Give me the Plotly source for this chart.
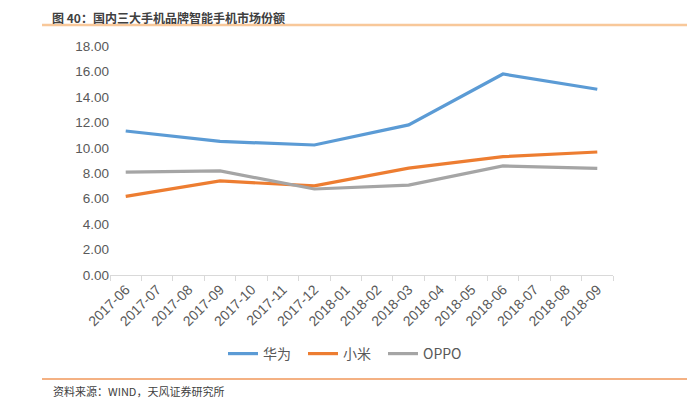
import plotly.graph_objects as go

months = ["2017-06", "2017-07", "2017-08", "2017-09", "2017-10", "2017-11", "2017-12",
          "2018-01", "2018-02", "2018-03", "2018-04", "2018-05", "2018-06", "2018-07",
          "2018-08", "2018-09"]
quarters = ["2017-06", "2017-09", "2017-12", "2018-03", "2018-06", "2018-09"]
huawei = [11.32, 10.50, 10.22, 11.80, 15.80, 14.60]
xiaomi = [6.18, 7.39, 7.00, 8.40, 9.30, 9.67]
oppo = [8.08, 8.18, 6.76, 7.06, 8.57, 8.38]

series_names = ["华为", "小米", "OPPO"]
colors = ["#5B9BD5", "#ED7D31", "#A5A5A5"]

# page offset from default body margin
OFF = 8
PW, PH = 695, 412
W, H = PW - OFF, PH - OFF
# plot area in page pixels
X0, X1, Y0, Y1 = 110, 613, 46, 275
L, R, T, B = X0 - OFF, PW - X1, Y0 - OFF, PH - Y1
pw, ph = X1 - X0, Y1 - Y0

def px(x):
    return (x - X0) / pw

def py(y):
    return (Y1 - y) / ph

fig = go.Figure()
for name, vals, c in zip(series_names, [huawei, xiaomi, oppo], colors):
    fig.add_trace(go.Scatter(x=quarters, y=vals, name=name, mode="lines",
                             line=dict(color=c, width=3.2), connectgaps=True))

cjk = "Noto Sans CJK SC"
fig.update_layout(
    width=W, height=H,
    margin=dict(l=L, r=R, t=T, b=B),
    plot_bgcolor="white", paper_bgcolor="white",
    font=dict(family=cjk, color="#595959", size=12),
    showlegend=True,
    legend=dict(orientation="h", x=px(343), y=py(354), xanchor="center", yanchor="middle",
                font=dict(size=14, color="#595959", family=cjk),
                entrywidth=35, entrywidthmode="pixels",
                traceorder="normal"),
    xaxis=dict(type="category", categoryorder="array", categoryarray=months,
               range=[-0.5, 15.5], tickangle=-45, showgrid=False,
               showline=True, linecolor="#D9D9D9", linewidth=1,
               ticks="outside", tickson="boundaries", ticklen=5, tickcolor="#D9D9D9",
               tickfont=dict(size=14, color="#595959", family="Liberation Sans")),
    yaxis=dict(range=[0, 18], dtick=2, tickformat=".2f", showgrid=False,
               zeroline=False, showline=False, ticks="",
               tickfont=dict(size=13.5, color="#595959", family="Liberation Sans")),
    shapes=[
        dict(type="line", xref="paper", yref="paper", x0=px(42), x1=px(700),
             y0=py(25), y1=py(25), line=dict(color="#F8C89A", width=2.5)),
        dict(type="line", xref="paper", yref="paper", x0=px(42), x1=px(700),
             y0=py(379), y1=py(379), line=dict(color="#F4B183", width=2)),
    ],
    annotations=[
        dict(text="<b>图 40：国内三大手机品牌智能手机市场份额</b>", xref="paper", yref="paper",
             x=px(51), y=py(8), xanchor="left", yanchor="top", showarrow=False,
             borderpad=0,
             font=dict(size=12, color="#404040", family=cjk)),
        dict(text="资料来源：WIND，天风证券研究所", xref="paper", yref="paper",
             x=px(51), y=py(391), xanchor="left", yanchor="middle", showarrow=False,
             font=dict(size=11, color="#404040", family=cjk)),
    ],
)

fig.write_html("out.html")
